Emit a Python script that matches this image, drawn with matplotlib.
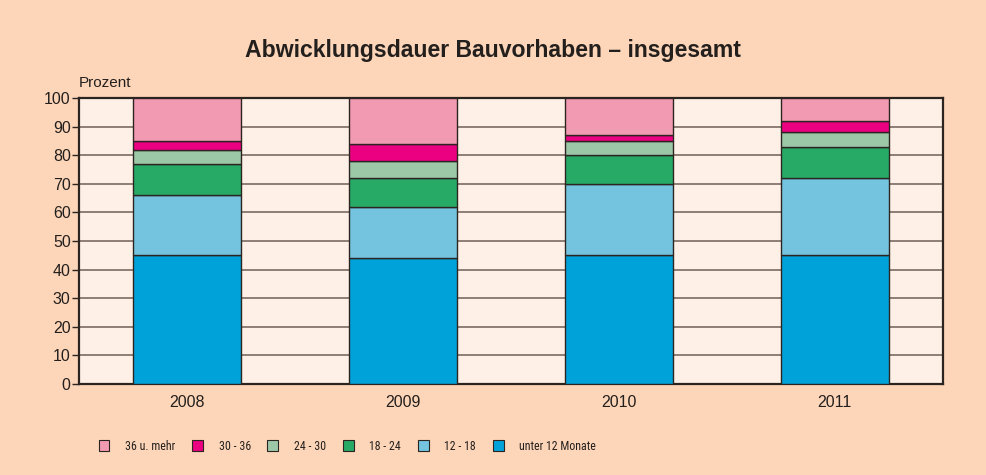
import numpy as np
import matplotlib
matplotlib.use("Agg")
import matplotlib.pyplot as plt
from matplotlib.patches import Patch
from matplotlib import font_manager

plt.rcParams['font.family'] = ['Liberation Sans', 'DejaVu Sans']

# data (percent, stacked bottom to top)
years = ['2008', '2009', '2010', '2011']
unter_12 = [45, 44, 45, 45]
m12_18 = [21, 18, 25, 27]
m18_24 = [11, 10, 10, 11]
m24_30 = [5, 6, 5, 5]
m30_36 = [3, 6, 2, 4]
m36_plus = [15, 16, 13, 8]

series = [unter_12, m12_18, m18_24, m24_30, m30_36, m36_plus]
labels = ['unter 12 Monate', '12 - 18', '18 - 24', '24 - 30', '30 - 36', '36 u. mehr']
colors = ['#00a3d9', '#74c3df', '#27aa66', '#9dc8a8', '#ec0082', '#f39ab3']

bg = '#fdd5b9'
plot_bg = '#fef0e6'
edge = '#2b2420'
txt = '#231f1c'

# legend in the reference uses a condensed face, look for one
leg_prop = font_manager.FontProperties(family='Liberation Sans', size=8.0)
leg_kw = dict(handlelength=0.95, handleheight=1.05, handletextpad=1.35,
              columnspacing=1.5)
for f in font_manager.fontManager.ttflist:
    fn = f.fname.replace(' ', '')
    if 'LiberationSansNarrow-Regular' in fn or 'RobotoCondensed-Regular' in fn:
        leg_prop = font_manager.FontProperties(fname=f.fname, size=8.6)
        leg_kw = dict(handlelength=0.92, handleheight=1.0, handletextpad=1.3,
                      columnspacing=1.4)
        break

fig = plt.figure(figsize=(9.86, 4.75), dpi=100, facecolor=bg)
ax = fig.add_axes([0.0801, 0.1916, 0.876, 0.602])
ax.set_facecolor(plot_bg)

x = np.arange(len(years))
bottom = np.zeros(len(years))
for vals, lab, col in zip(series, labels, colors):
    ax.bar(x, vals, width=0.5, bottom=bottom, color=col, edgecolor=edge,
           linewidth=1.0, label=lab, zorder=3)
    bottom += np.array(vals)

ax.set_xlim(-0.5, len(years) - 0.5)
ax.set_ylim(0, 100)
ax.set_yticks(np.arange(0, 101, 10))
ax.set_xticks(x)
ax.set_xticklabels(years)
ax.yaxis.grid(True, color='#7a6a62', linewidth=1.2, zorder=1)
ax.set_axisbelow(True)

ax.tick_params(axis='y', direction='out', length=5, width=1, color=edge,
               labelsize=11.5, pad=1, labelcolor=txt)
ax.tick_params(axis='x', length=0, labelsize=11.5, pad=8, labelcolor=txt)
for side in ['left', 'bottom', 'top', 'right']:
    ax.spines[side].set_color(edge)
    ax.spines[side].set_linewidth(1.6)

fig.text(0.5, 0.893, 'Abwicklungsdauer Bauvorhaben \u2013 insgesamt',
         ha='center', va='center', fontsize=16.6, fontweight='bold', color=txt)
fig.text(0.080, 0.825, 'Prozent', ha='left', va='center', fontsize=11, color=txt)

handles = [Patch(facecolor=c, edgecolor=edge, linewidth=0.8, label=l)
           for l, c in zip(labels[::-1], colors[::-1])]
fig.legend(handles=handles, loc='center left', bbox_to_anchor=(0.089, 0.061),
           ncol=6, frameon=False, prop=leg_prop, labelcolor=txt, **leg_kw)

fig.savefig('out.png', dpi=100, facecolor=bg)
